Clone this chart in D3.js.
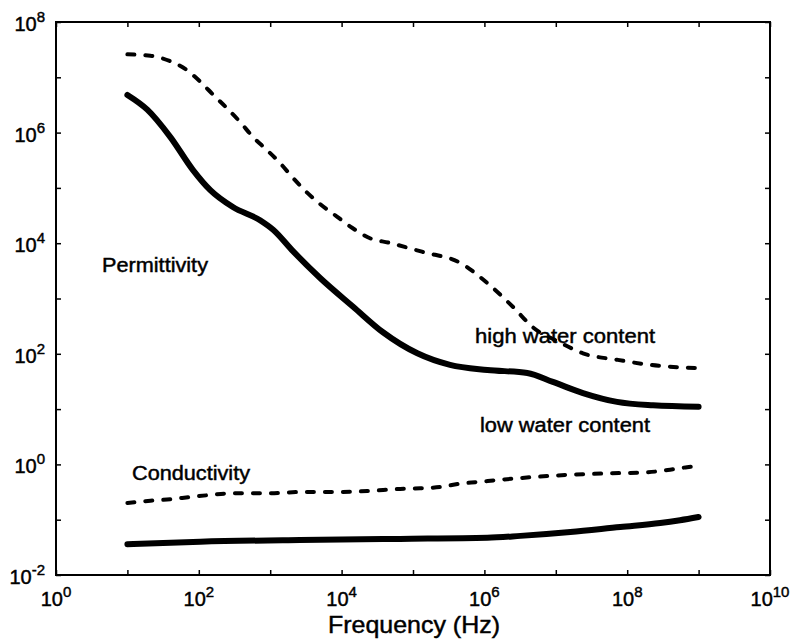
<!DOCTYPE html>
<html>
<head>
<meta charset="utf-8">
<script src="https://cdn.jsdelivr.net/npm/d3@7/dist/d3.min.js"></script>
<style>
  html, body { margin: 0; padding: 0; background: #fff; }
  svg { display: block; }
  text { font-family: "Liberation Sans", Arial, Helvetica, sans-serif; fill: #000; stroke: #000; stroke-width: 0.45px; }
</style>
</head>
<body>
<svg id="chart" width="791" height="641"></svg>
<script>
// ---------- data ----------
const permHighFreq = [10, 21, 40, 68, 105, 160, 245, 380, 575, 890, 1380, 2100, 3200, 5000, 8700, 1.4e4, 2.5e4, 4.6e4, 1.4e5, 4.6e5, 1.1e6, 2.5e6, 4.8e6, 1.15e7, 2.4e7, 7.2e7, 2.1e8, 1e9];
const permHighVal  = [2.6e7, 2.45e7, 1.95e7, 1.35e7, 8.3e6, 4.8e6, 2.8e6, 1.55e6, 8.3e5, 4.9e5, 2.8e5, 1.5e5, 8.5e4, 5.1e4, 3.0e4, 1.9e4, 1.23e4, 1.02e4, 6.9e3, 4.4e3, 1.9e3, 710, 300, 160, 102, 78, 63, 55];

const permLowFreq = [10, 19, 40, 83, 145, 300, 720, 1100, 2100, 5000, 1.45e4, 3.8e4, 1.15e5, 3.3e5, 1.1e6, 4e6, 9.1e6, 2.4e7, 7.2e7, 2.3e8, 1e9];
const permLowVal  = [4.8e6, 2.6e6, 8.3e5, 2.1e5, 9.1e4, 4.5e4, 2.6e4, 1.75e4, 7.1e3, 2.35e3, 710, 245, 102, 63, 51, 45, 31, 19.5, 13.5, 11.7, 11];

const condHighFreq = [10, 21, 40, 76, 145, 300, 890, 2600, 7600, 2.3e4, 6.6e4, 1.26e5, 2.4e5, 4.6e5, 8.1e5, 1.5e6, 4.8e6, 1.6e7, 5.8e7, 1.9e8, 3.7e8, 6.9e8, 1e9];
const condHighVal  = [0.20, 0.22, 0.234, 0.257, 0.28, 0.30, 0.30, 0.316, 0.316, 0.33, 0.36, 0.37, 0.39, 0.45, 0.48, 0.52, 0.59, 0.65, 0.69, 0.72, 0.79, 0.89, 0.93];

const condLowFreq = [10, 105, 2600, 6.6e4, 1.1e6, 3.2e6, 1.6e7, 8e7, 2.9e8, 5.5e8, 1e9];
const condLowVal  = [0.036, 0.040, 0.043, 0.045, 0.047, 0.051, 0.060, 0.074, 0.087, 0.098, 0.112];

const xTickExps = [0, 1, 2, 3, 4, 5, 6, 7, 8, 9, 10];
const xLabelExps = [0, 2, 4, 6, 8, 10];
const yTickExps = [-2, -1, 0, 1, 2, 3, 4, 5, 6, 7, 8];
const yLabelExps = [-2, 0, 2, 4, 6, 8];

const annoText = ["Permittivity", "high water content", "low water content", "Conductivity"];
const xLabel = "Frequency (Hz)";

// ---------- layout ----------
const mLeft = 56, mRight = 770, mTop = 22, mBottom = 575;
const svg = d3.select("#chart");

const x = d3.scaleLog().domain([1, 1e10]).range([mLeft, mRight]);
const y = d3.scaleLog().domain([1e-2, 1e8]).range([mBottom, mTop]);

// ticks on all four sides (inward)
const tickLen = 5;
const xT = xTickExps.map(e => Math.pow(10, e));
const yT = yTickExps.map(e => Math.pow(10, e));
const axB = svg.append("g").attr("transform", `translate(0,${mBottom})`)
  .call(d3.axisBottom(x).tickValues(xT).tickSize(-tickLen).tickFormat(""));
const axT = svg.append("g").attr("transform", `translate(0,${mTop})`)
  .call(d3.axisTop(x).tickValues(xT).tickSize(-tickLen).tickFormat(""));
const axL = svg.append("g").attr("transform", `translate(${mLeft},0)`)
  .call(d3.axisLeft(y).tickValues(yT).tickSize(-tickLen).tickFormat(""));
const axR = svg.append("g").attr("transform", `translate(${mRight},0)`)
  .call(d3.axisRight(y).tickValues(yT).tickSize(-tickLen).tickFormat(""));
[axB, axT, axL, axR].forEach(a => {
  a.select(".domain").remove();
  a.selectAll(".tick line").attr("stroke", "#000").attr("stroke-width", 1.5);
});

// frame
svg.append("rect").attr("x", mLeft).attr("y", mTop)
  .attr("width", mRight - mLeft).attr("height", mBottom - mTop)
  .attr("fill", "none").attr("stroke", "#000").attr("stroke-width", 2);

// tick labels with superscripts
function powLabel(g, e) {
  const t = g.append("text").attr("font-size", 20);
  t.append("tspan").text("10");
  t.append("tspan").attr("font-size", 15).attr("dy", -9).text(e);
  return t;
}
xLabelExps.forEach(e => {
  const g = svg.append("g").attr("transform", `translate(${x(Math.pow(10, e))},${mBottom + 31})`);
  powLabel(g, e).attr("text-anchor", "middle");
});
yLabelExps.forEach(e => {
  const g = svg.append("g").attr("transform", `translate(${mLeft - 11},${y(Math.pow(10, e)) + 9})`);
  powLabel(g, e).attr("text-anchor", "end");
});

// axis title
svg.append("text").attr("x", (mLeft + mRight) / 2 + 1).attr("y", 633)
  .attr("text-anchor", "middle").attr("font-size", 24)
  .attr("textLength", 172).attr("lengthAdjust", "spacingAndGlyphs").text(xLabel);

// lines
const line = d3.line().x(d => x(d[0])).y(d => y(d[1])).curve(d3.curveMonotoneX);
function drawSeries(fr, vals, dashed) {
  const pts = fr.map((f, i) => [f, vals[i]]);
  const p = svg.append("path").datum(pts).attr("d", line)
    .attr("fill", "none").attr("stroke", "#000");
  if (dashed) {
    p.attr("stroke-width", 4).attr("stroke-dasharray", "7,11").attr("stroke-linecap", "round");
  } else {
    p.attr("stroke-width", 6).attr("stroke-linecap", "round");
  }
}
drawSeries(permHighFreq, permHighVal, true);
drawSeries(permLowFreq, permLowVal, false);
drawSeries(condHighFreq, condHighVal, true);
drawSeries(condLowFreq, condLowVal, false);

// annotations
const annoPos = [
  { x: 102, y: 272, w: 106 },
  { x: 475, y: 343, w: 180 },
  { x: 480, y: 432, w: 170 },
  { x: 132, y: 480, w: 118 }
];
annoText.forEach((s, i) => {
  svg.append("text").attr("x", annoPos[i].x).attr("y", annoPos[i].y)
    .attr("font-size", 20)
    .attr("textLength", annoPos[i].w).attr("lengthAdjust", "spacingAndGlyphs")
    .text(s);
});
</script>
</body>
</html>
